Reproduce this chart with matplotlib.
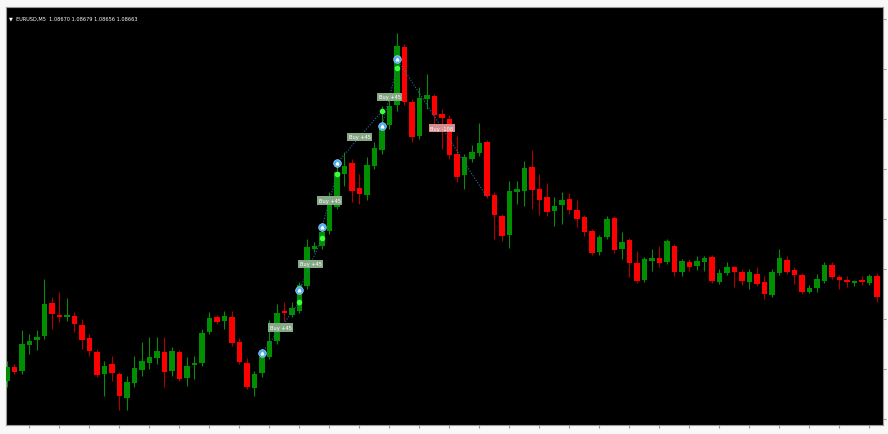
import matplotlib
matplotlib.use("Agg")
import matplotlib.pyplot as plt
import numpy as np

# EURUSD M5 candles
opens = [
    1.08448, 1.08462, 1.08458, 1.08484, 1.08489, 1.08493, 1.08526, 1.08514, 1.08512, 1.08513,
    1.08504, 1.08491, 1.08477, 1.08455, 1.08465, 1.08455, 1.08431, 1.08446, 1.08459, 1.08466,
    1.08471, 1.08477, 1.08458, 1.08477, 1.08451, 1.08464, 1.08466, 1.08497, 1.08512, 1.08508,
    1.08512, 1.08487, 1.08466, 1.08441, 1.08456, 1.08472, 1.08488, 1.08518, 1.08514, 1.08518,
    1.08543, 1.08580, 1.08583, 1.08598, 1.08622, 1.08655, 1.08666, 1.08641, 1.08634, 1.08663,
    1.08679, 1.08704, 1.08724, 1.08782, 1.08727, 1.08693, 1.08730, 1.08733, 1.08715, 1.08710,
    1.08675, 1.08654, 1.08670, 1.08676, 1.08687, 1.08634, 1.08613, 1.08594, 1.08637, 1.08638,
    1.08662, 1.08640, 1.08632, 1.08618, 1.08624, 1.08630, 1.08619, 1.08612, 1.08598, 1.08577,
    1.08592, 1.08611, 1.08580, 1.08589, 1.08566, 1.08549, 1.08568, 1.08571, 1.08567, 1.08583,
    1.08557, 1.08567, 1.08563, 1.08567, 1.08572, 1.08547, 1.08556, 1.08562, 1.08557, 1.08547,
    1.08555, 1.08547, 1.08534, 1.08556, 1.08569, 1.08559, 1.08554, 1.08537, 1.08541, 1.08548,
    1.08564, 1.08552, 1.08549, 1.08546, 1.08549, 1.08546, 1.08553,
]
highs = [
    1.08468, 1.08465, 1.08499, 1.08495, 1.08499, 1.08550, 1.08532, 1.08537, 1.08531, 1.08517,
    1.08510, 1.08495, 1.08480, 1.08468, 1.08473, 1.08457, 1.08453, 1.08473, 1.08487, 1.08492,
    1.08492, 1.08492, 1.08482, 1.08479, 1.08472, 1.08473, 1.08500, 1.08517, 1.08514, 1.08518,
    1.08518, 1.08491, 1.08471, 1.08458, 1.08475, 1.08509, 1.08525, 1.08527, 1.08527, 1.08547,
    1.08590, 1.08587, 1.08602, 1.08637, 1.08665, 1.08677, 1.08670, 1.08655, 1.08672, 1.08687,
    1.08723, 1.08733, 1.08796, 1.08785, 1.08730, 1.08742, 1.08755, 1.08735, 1.08720, 1.08714,
    1.08693, 1.08675, 1.08684, 1.08706, 1.08689, 1.08637, 1.08615, 1.08648, 1.08648, 1.08668,
    1.08679, 1.08655, 1.08646, 1.08632, 1.08637, 1.08636, 1.08629, 1.08614, 1.08600, 1.08594,
    1.08613, 1.08613, 1.08597, 1.08591, 1.08578, 1.08572, 1.08580, 1.08583, 1.08590, 1.08585,
    1.08570, 1.08570, 1.08573, 1.08573, 1.08574, 1.08560, 1.08567, 1.08563, 1.08560, 1.08560,
    1.08562, 1.08553, 1.08560, 1.08580, 1.08573, 1.08562, 1.08556, 1.08544, 1.08555, 1.08567,
    1.08567, 1.08554, 1.08553, 1.08549, 1.08553, 1.08555, 1.08556,
]
lows = [
    1.08442, 1.08455, 1.08455, 1.08475, 1.08479, 1.08490, 1.08500, 1.08507, 1.08508, 1.08497,
    1.08480, 1.08473, 1.08452, 1.08433, 1.08448, 1.08419, 1.08419, 1.08442, 1.08453, 1.08460,
    1.08465, 1.08442, 1.08453, 1.08448, 1.08443, 1.08450, 1.08463, 1.08495, 1.08505, 1.08500,
    1.08483, 1.08465, 1.08440, 1.08433, 1.08452, 1.08470, 1.08485, 1.08508, 1.08512, 1.08516,
    1.08540, 1.08577, 1.08580, 1.08595, 1.08620, 1.08643, 1.08627, 1.08625, 1.08629, 1.08660,
    1.08675, 1.08700, 1.08718, 1.08724, 1.08687, 1.08690, 1.08720, 1.08705, 1.08680, 1.08670,
    1.08647, 1.08640, 1.08667, 1.08673, 1.08631, 1.08590, 1.08588, 1.08581, 1.08625, 1.08623,
    1.08620, 1.08614, 1.08613, 1.08603, 1.08605, 1.08615, 1.08602, 1.08593, 1.08574, 1.08574,
    1.08590, 1.08576, 1.08570, 1.08552, 1.08546, 1.08547, 1.08558, 1.08562, 1.08565, 1.08553,
    1.08553, 1.08558, 1.08559, 1.08558, 1.08546, 1.08545, 1.08554, 1.08542, 1.08544, 1.08540,
    1.08543, 1.08530, 1.08532, 1.08554, 1.08555, 1.08545, 1.08535, 1.08536, 1.08537, 1.08546,
    1.08550, 1.08540, 1.08542, 1.08543, 1.08544, 1.08544, 1.08527,
]
closes = [
    1.08462, 1.08457, 1.08485, 1.08488, 1.08492, 1.08525, 1.08515, 1.08512, 1.08514, 1.08505,
    1.08489, 1.08478, 1.08454, 1.08463, 1.08456, 1.08433, 1.08447, 1.08461, 1.08468, 1.08472,
    1.08478, 1.08457, 1.08478, 1.08450, 1.08463, 1.08465, 1.08496, 1.08511, 1.08507, 1.08513,
    1.08486, 1.08467, 1.08442, 1.08455, 1.08472, 1.08488, 1.08516, 1.08516, 1.08521, 1.08544,
    1.08582, 1.08583, 1.08597, 1.08626, 1.08657, 1.08663, 1.08638, 1.08635, 1.08664, 1.08681,
    1.08700, 1.08723, 1.08783, 1.08727, 1.08692, 1.08731, 1.08734, 1.08714, 1.08711, 1.08674,
    1.08652, 1.08672, 1.08677, 1.08686, 1.08633, 1.08614, 1.08593, 1.08638, 1.08640, 1.08661,
    1.08639, 1.08629, 1.08617, 1.08623, 1.08629, 1.08619, 1.08610, 1.08597, 1.08576, 1.08592,
    1.08610, 1.08579, 1.08587, 1.08566, 1.08548, 1.08570, 1.08571, 1.08566, 1.08588, 1.08557,
    1.08568, 1.08562, 1.08568, 1.08571, 1.08548, 1.08556, 1.08562, 1.08557, 1.08548, 1.08557,
    1.08545, 1.08535, 1.08557, 1.08571, 1.08557, 1.08554, 1.08537, 1.08541, 1.08550, 1.08564,
    1.08552, 1.08549, 1.08547, 1.08548, 1.08547, 1.08553, 1.08532,
]

# trades (candle number, price)
entry_bar = [35, 40, 43, 45, 51, 53]
entry_price = [1.08476, 1.08539, 1.08602, 1.08666, 1.08703, 1.08770]
exit_bar = [40, 43, 45, 51, 53, 65]
exit_price = [1.08527, 1.08591, 1.08655, 1.08718, 1.08761, 1.08632]
trade_labels = ["Buy +45", "Buy +45", "Buy +45", "Buy +45", "Buy +45", "Buy -108"]

header = "\u25bc  EURUSD,M5  1.08670 1.08679 1.08656 1.08663"

o = np.array(opens)
h = np.array(highs)
l = np.array(lows)
c = np.array(closes)
x = np.arange(len(o))
up = c >= o

fig = plt.figure(figsize=(8.88, 4.35), dpi=100, facecolor="#f8f8f8")
ax = fig.add_axes([6 / 888, 9 / 435, 877 / 888, 418 / 435])
ax.set_facecolor("black")

ax.vlines(x[up], l[up], h[up], color="#0a8a0a", linewidth=0.8, zorder=2)
ax.vlines(x[~up], l[~up], h[~up], color="#b00000", linewidth=0.8, zorder=2)
body = np.maximum(np.abs(c - o), 0.000018)
ax.bar(x[up], body[up], bottom=np.minimum(o, c)[up], width=0.72, color="#008f00", zorder=3)
ax.bar(x[~up], body[~up], bottom=np.minimum(o, c)[~up], width=0.72, color="#ff0000", zorder=3)

for eb, ep, xb, xp, lab in zip(entry_bar, entry_price, exit_bar, exit_price, trade_labels):
    ax.plot([eb - 1, xb - 1], [ep, xp], linestyle=(0, (1, 1.5)), color="#2a6c9c", linewidth=0.8, zorder=4)
    ax.plot(eb - 1, ep, "o", ms=5.5, color="#46aaf0", mec="#9fd3ff", mew=0.5, zorder=6)
    ax.plot(eb - 1, ep, "^", ms=2, color="white", zorder=7)
    if lab.endswith("+45"):
        ax.plot(xb - 1, xp, "o", ms=3, color="#3cff3c", zorder=6)
        fc = "#86a886"
    else:
        fc = "#d48c8c"
    ax.text((eb + xb) / 2 - 1, (ep + xp) / 2, lab, fontsize=3.7, color="white",
            ha="center", va="center", zorder=8,
            bbox=dict(facecolor=fc, edgecolor="none", boxstyle="square,pad=0.35"))

ax.text(0.003, 0.975, header, transform=ax.transAxes, fontsize=3.6, color="white",
        ha="left", va="center")

ax.set_xlim(-0.13, 116.8)
ax.set_ylim(1.08404, 1.08822)
ax.set_xticks(np.arange(3, 117, 4))
ax.set_xticklabels([])
ax.yaxis.tick_right()
ax.set_yticks(np.arange(1.08410, 1.08822, 0.00050))
ax.set_yticklabels([])
ax.tick_params(axis="both", length=2, color="#999999", direction="out")
for s in ax.spines.values():
    s.set_color("#9a9a9a")
    s.set_linewidth(0.8)

fig.savefig("out.png", dpi=100, facecolor=fig.get_facecolor())
